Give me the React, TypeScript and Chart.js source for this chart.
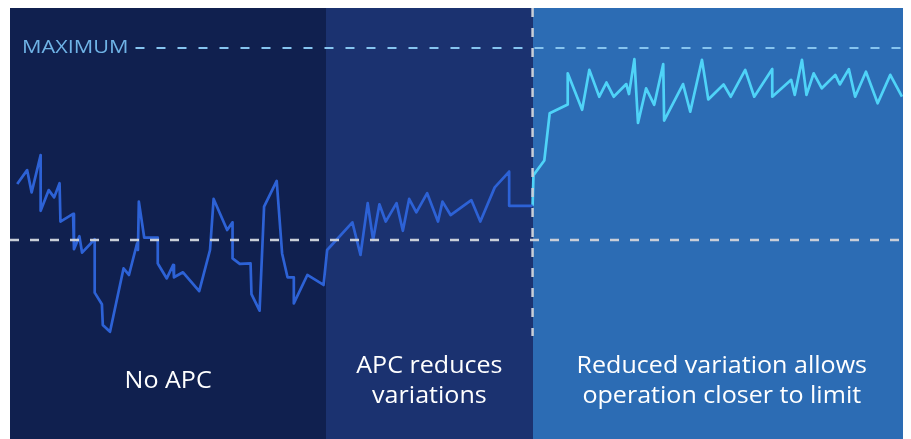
import { useEffect, useRef } from "react";
import { Chart, registerables } from "chart.js";

Chart.register(...registerables);

// Zones (time axis 0..100)
const zoneEdges = [0, 35.1, 58.0, 100];
const zoneColors = ["#10204f", "#1b3270", "#2c6cb4"];
const zoneLabels = [
  ["No APC"],
  ["APC reduces", "variations"],
  ["Reduced variation allows", "operation closer to limit"],
];
const zoneLabelLevel = 13.3;

// Reference levels
const maximumLevel = 100;
const maximumLabel = "MAXIMUM";
const baselineLevel = 50;
const controlSwitchTime = 58.0;
const controlSwitchBottom = 25;

// Process value before tight control (no APC + APC)
const earlyTime = [
  0.8, 1.9, 2.4, 3.4, 3.4, 4.3, 4.9, 5.5, 5.6, 7.0, 7.1, 7.7, 8.0, 9.4, 9.4, 10.2, 10.3, 11.1,
  12.6, 13.2, 14.1, 14.2, 14.3, 14.9, 16.4, 16.4, 17.4, 18.1, 18.2, 19.2, 21.0, 22.2, 22.6,
  24.1, 24.7, 24.7, 25.5, 26.7, 26.8, 27.7, 28.2, 29.6, 30.2, 30.8, 31.5, 31.5, 33.0, 34.8,
  35.2, 38.0, 38.9, 39.7, 40.3, 41.0, 41.7, 42.9, 43.6, 44.3, 45.1, 46.3, 47.5, 48.0, 48.9,
  51.2, 52.2, 53.8, 55.4, 55.4, 58.0,
];
const earlyValue = [
  64.6, 68.2, 62.4, 72.1, 57.6, 63.0, 61.1, 64.8, 54.8, 56.8, 47.6, 51.0, 46.7, 50.2, 36.3,
  33.3, 27.9, 26.1, 42.6, 40.9, 49.1, 47.4, 60.0, 50.6, 50.6, 43.9, 40.0, 43.5, 40.3, 41.6,
  36.7, 47.4, 60.7, 52.6, 54.6, 45.2, 43.8, 43.9, 35.9, 31.6, 58.7, 65.4, 46.5, 40.3, 40.3,
  33.5, 40.9, 38.3, 47.4, 54.6, 46.1, 59.6, 50.0, 59.3, 54.8, 59.6, 52.4, 60.7, 57.2, 62.2,
  54.8, 60.0, 56.5, 60.4, 54.8, 63.7, 67.8, 58.9, 58.9,
];

// Process value with reduced variation
const lateTime = [
  58.0, 58.1, 59.3, 59.9, 61.9, 61.9, 63.5, 64.3, 65.4, 66.2, 67.0, 68.4, 68.7, 69.3, 69.7,
  70.6, 71.5, 72.5, 72.6, 74.7, 75.5, 76.8, 77.5, 79.2, 80.0, 81.6, 82.6, 84.6, 84.6, 86.7,
  87.1, 87.9, 88.4, 89.2, 90.1, 91.6, 92.1, 93.1, 93.8, 95.0, 96.3, 97.7, 99.0,
];
const lateValue = [
  58.9, 66.9, 70.7, 83.0, 85.3, 93.4, 83.9, 94.3, 87.3, 91.0, 87.3, 90.6, 88.0, 97.1, 80.5,
  89.5, 85.2, 95.8, 81.1, 90.6, 83.4, 96.9, 86.6, 90.5, 87.3, 94.3, 87.3, 94.5, 87.3, 91.7,
  87.8, 96.9, 87.8, 93.4, 89.5, 93.0, 90.5, 94.5, 87.3, 93.8, 85.6, 93.0, 87.3,
];

const FONT = '"Segoe UI", "Open Sans", "Noto Sans", sans-serif';
const TEXT_STRETCH = 1.09;

function stretchedText(ctx: any, text: string, x: number, y: number, sx: number) {
  ctx.save();
  ctx.translate(x, y);
  ctx.scale(sx, 1);
  ctx.fillText(text, 0, 0);
  ctx.restore();
}

const overlayPlugin = {
  id: "overlay",
  beforeDraw(chart: any) {
    const { ctx, chartArea, scales } = chart;
    const x = scales.x;
    ctx.save();
    for (let i = 0; i < zoneColors.length; i++) {
      const x0 = Math.round(x.getPixelForValue(zoneEdges[i]));
      const x1 = Math.round(x.getPixelForValue(zoneEdges[i + 1]));
      ctx.fillStyle = zoneColors[i];
      ctx.fillRect(x0, chartArea.top, x1 - x0 + (i < zoneColors.length - 1 ? 1 : 0), chartArea.bottom - chartArea.top);
    }
    ctx.restore();
  },
  afterDatasetsDraw(chart: any) {
    const { ctx, chartArea, scales } = chart;
    const x = scales.x;
    const y = scales.y;
    ctx.save();

    // baseline dashed line
    const yb = y.getPixelForValue(baselineLevel);
    ctx.strokeStyle = "#c9ced8";
    ctx.lineWidth = 2.5;
    ctx.setLineDash([9, 11]);
    ctx.beginPath();
    ctx.moveTo(chartArea.left, yb);
    ctx.lineTo(chartArea.right, yb);
    ctx.stroke();

    // vertical switch line
    const xs = x.getPixelForValue(controlSwitchTime);
    ctx.beginPath();
    ctx.lineWidth = 2.5;
    ctx.setLineDash([9, 11]);
    ctx.moveTo(xs, chartArea.top);
    ctx.lineTo(xs, y.getPixelForValue(controlSwitchBottom));
    ctx.stroke();

    // maximum label + line
    const ym = y.getPixelForValue(maximumLevel);
    ctx.setLineDash([]);
    ctx.font = `19px ${FONT}`;
    ctx.fillStyle = "#6fb3e6";
    ctx.textBaseline = "middle";
    ctx.textAlign = "left";
    const lx = chartArea.left + 12;
    const msx = 1.14;
    stretchedText(ctx, maximumLabel, lx, ym, msx);
    const w = ctx.measureText(maximumLabel).width * msx;
    ctx.strokeStyle = "#86c4ef";
    ctx.lineWidth = 2;
    ctx.setLineDash([9, 12]);
    ctx.beginPath();
    ctx.moveTo(lx + w + 7, ym);
    ctx.lineTo(chartArea.right, ym);
    ctx.stroke();
    ctx.setLineDash([]);

    // zone labels
    ctx.fillStyle = "#ffffff";
    ctx.font = `23px ${FONT}`;
    ctx.textAlign = "center";
    const yl = y.getPixelForValue(zoneLabelLevel);
    const lh = 30;
    zoneLabels.forEach((lines, i) => {
      const cx = (x.getPixelForValue(zoneEdges[i]) + x.getPixelForValue(zoneEdges[i + 1])) / 2;
      const start = yl - ((lines.length - 1) * lh) / 2;
      lines.forEach((t, j) => stretchedText(ctx, t, cx, start + j * lh, TEXT_STRETCH));
    });

    ctx.restore();
  },
};

export default function App() {
  const ref = useRef<HTMLCanvasElement>(null);
  useEffect(() => {
    if (!ref.current) return;
    const chart = new Chart(ref.current, {
      type: "line",
      data: {
        datasets: [
          {
            label: "Before",
            data: earlyTime.map((t, i) => ({ x: t, y: earlyValue[i] })),
            borderColor: "#2d62d6",
            borderWidth: 2.7,
            pointRadius: 0,
            tension: 0,
            borderJoinStyle: "round",
          },
          {
            label: "After",
            data: lateTime.map((t, i) => ({ x: t, y: lateValue[i] })),
            borderColor: "#4fd3f8",
            borderWidth: 2.7,
            pointRadius: 0,
            tension: 0,
            borderJoinStyle: "round",
          },
        ],
      },
      options: {
        animation: false,
        responsive: true,
        maintainAspectRatio: false,
        layout: { padding: 0 },
        plugins: { legend: { display: false }, tooltip: { enabled: false } },
        scales: {
          x: { type: "linear", min: 0, max: 100, display: false },
          y: { min: -1.8, max: 110.4, display: false },
        },
      },
      plugins: [overlayPlugin],
    } as any);
    return () => chart.destroy();
  }, []);
  return (
    <div style={{ width: 901, height: 431, marginLeft: 2, position: "relative" }}>
      <canvas ref={ref} />
    </div>
  );
}
